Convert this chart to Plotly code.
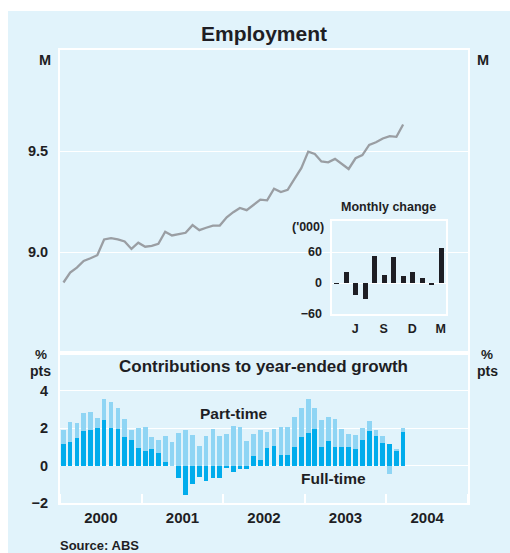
import plotly.graph_objects as go

W, H = 510, 553

# Monthly observations, January 2000 to March 2004
months = [f"{y}-{m:02d}" for y in range(2000, 2005) for m in range(1, 13)][:51]

# Employed persons, millions
employment_m = [
    8.849, 8.898, 8.923, 8.956, 8.969, 8.984, 9.062, 9.069, 9.062, 9.052,
    9.015, 9.046, 9.026, 9.030, 9.041, 9.100, 9.082, 9.087, 9.095, 9.133,
    9.108, 9.120, 9.131, 9.131, 9.172, 9.197, 9.218, 9.207, 9.233, 9.259,
    9.256, 9.313, 9.297, 9.308, 9.362, 9.415, 9.497, 9.485, 9.448, 9.444,
    9.461, 9.436, 9.411, 9.464, 9.480, 9.530, 9.543, 9.562, 9.574, 9.570,
    9.631,
]

# Contributions to year-ended employment growth, percentage points
full_time = [
    1.16, 1.26, 1.48, 1.85, 1.90, 2.01, 2.44, 2.01, 1.96, 1.53,
    1.37, 0.94, 0.78, 0.89, 0.68, 0.20, 0.00, -0.64, -1.55, -0.96,
    -0.59, -0.85, -0.69, -0.69, -0.11, -0.32, -0.16, -0.16, 0.52, 0.30,
    0.94, 1.05, 0.57, 0.57, 1.00, 1.53, 1.74, 1.96, 1.00, 1.32,
    1.00, 1.00, 1.00, 0.89, 1.37, 1.85, 1.58, 1.21, 1.16, 0.78,
    1.80,
]
part_time = [
    0.74, 1.07, 0.80, 0.96, 0.96, 0.53, 1.12, 1.39, 1.12, 0.96,
    0.53, 1.07, 1.28, 0.64, 0.69, 1.38, 1.26, 1.74, 1.90, 1.64,
    1.05, 1.58, 1.96, 1.58, 1.69, 2.12, 2.06, 1.32, 1.17, 1.60,
    0.86, 0.91, 1.49, 1.49, 1.60, 1.55, 1.82, 1.12, 1.44, 1.28,
    1.49, 0.96, 0.69, 0.75, 0.64, 0.53, 0.32, 0.37, -0.44, 0.11,
    0.21,
]

# Monthly change in employment, '000
inset_months = ["2003-04", "2003-05", "2003-06", "2003-07", "2003-08", "2003-09",
                "2003-10", "2003-11", "2003-12", "2004-01", "2004-02", "2004-03"]
monthly_change = [-1, 21, -24, -31, 52, 15, 50, 13, 22, 9, -4, 67]
inset_tick_months = ["2003-06", "2003-09", "2003-12", "2004-03"]
inset_tick_text = ["J", "S", "D", "M"]

BG = "#e1f3fb"
INK = "#1e1e24"
FONT = "Liberation Sans, Arial, sans-serif"
FT_BLUE = "#00acec"
PT_BLUE = "#8fd5f4"
LINE_GREY = "#9a9ea3"
BAR_WIDTH_MS = 20.9 * 86400000


def fx(px):
    return px / W


def fy(py):
    return 1 - py / H


fig = go.Figure()

fig.add_trace(go.Scatter(
    x=months, y=employment_m, xperiod="M1", xperiodalignment="middle",
    mode="lines", line=dict(color=LINE_GREY, width=2.3),
    xaxis="x", yaxis="y", hoverinfo="skip", showlegend=False,
))
fig.add_trace(go.Bar(
    x=months, y=full_time, xperiod="M1", xperiodalignment="middle",
    width=BAR_WIDTH_MS, marker=dict(color=FT_BLUE, line=dict(width=0)),
    xaxis="x2", yaxis="y2", showlegend=False, name="Full-time",
))
fig.add_trace(go.Bar(
    x=months, y=part_time, xperiod="M1", xperiodalignment="middle",
    width=BAR_WIDTH_MS, marker=dict(color=PT_BLUE, line=dict(width=0)),
    xaxis="x2", yaxis="y2", showlegend=False, name="Part-time",
))
fig.add_trace(go.Bar(
    x=inset_months, y=monthly_change, width=0.5,
    marker=dict(color=INK, line=dict(width=0)),
    xaxis="x3", yaxis="y3", showlegend=False, name="Monthly change",
))

frame = dict(showline=True, linecolor="white", linewidth=2, mirror=True, automargin=False)
tickfont = dict(family=FONT, size=14.5, color=INK, weight="bold")
small_font = dict(family=FONT, size=12.5, color=INK, weight="bold")
date_range = ["2000-01-01", "2005-01-01"]

fig.update_layout(
    width=W, height=H, margin=dict(l=0, r=0, t=0, b=0, pad=0, autoexpand=False),
    autosize=False,
    paper_bgcolor="white", plot_bgcolor="rgba(0,0,0,0)",
    barmode="relative", bargap=0,
    font=dict(family=FONT, color=INK, weight="bold"),
    xaxis=dict(domain=[fx(60), fx(468)], anchor="y", type="date", range=date_range,
               showticklabels=False, ticks="", showgrid=False, zeroline=False, **frame),
    yaxis=dict(domain=[fy(353), fy(50)], anchor="x", range=[8.5, 10.0],
               tickvals=[9.0, 9.5], ticktext=["9.0", "9.5"], ticks="",
               showgrid=True, gridcolor="white", gridwidth=1.3, zeroline=False,
               tickfont=tickfont, ticklabelstandoff=7, **frame),
    yaxis4=dict(overlaying="y", side="right", anchor="x", range=[8.5, 10.0],
                tickvals=[9.0, 9.5], ticktext=["9.0", "9.5"], ticks="",
                showgrid=False, zeroline=False, showline=False, automargin=False,
                tickfont=tickfont, ticklabelstandoff=7),
    xaxis2=dict(domain=[fx(60), fx(468)], anchor="y2", type="date", range=date_range,
                tick0="2000-01-01", dtick="M12", ticklabelmode="period", tickformat="%Y",
                ticks="inside", ticklen=9, tickwidth=2, tickcolor="white",
                showgrid=False, zeroline=False, tickfont=dict(tickfont, size=15),
                **frame),
    yaxis2=dict(domain=[fy(503), fy(353)], anchor="x2", range=[-2, 6],
                tickvals=[-2, 0, 2, 4], ticks="",
                showgrid=True, gridcolor="white", gridwidth=1.3, zeroline=False,
                tickfont=tickfont, ticklabelstandoff=7, **frame),
    yaxis5=dict(overlaying="y2", side="right", anchor="x2", range=[-2, 6],
                tickvals=[-2, 0, 2, 4], ticks="",
                showgrid=False, zeroline=False, showline=False, automargin=False,
                tickfont=tickfont, ticklabelstandoff=7),
    xaxis3=dict(domain=[fx(331.5), fx(445.5)], anchor="y3", type="category",
                categoryorder="array", categoryarray=inset_months,
                tickvals=inset_tick_months, ticktext=inset_tick_text, ticks="",
                showgrid=False, zeroline=False, tickfont=small_font,
                ticklabelstandoff=2, **frame),
    yaxis3=dict(domain=[fy(314), fy(221)], anchor="x3", range=[-60, 120],
                tickvals=[-60, 0, 60], ticks="",
                showgrid=True, gridcolor="white", gridwidth=1.3, zeroline=False,
                tickfont=small_font, ticklabelstandoff=5, **frame),
)

# Panel background
fig.add_shape(type="rect", xref="paper", yref="paper",
              x0=fx(8), x1=1, y0=0, y1=fy(11),
              fillcolor=BG, line=dict(width=0), layer="below")


def label(text, x, y, size, xanchor="center"):
    fig.add_annotation(text=text, xref="paper", yref="paper", x=fx(x), y=fy(y),
                       xanchor=xanchor, yanchor="middle", showarrow=False,
                       font=dict(family=FONT, size=size, color=INK, weight="bold"))


label("Employment", 264, 33, 21)
label("M", 53, 60, 14.5, xanchor="right")
label("M", 475, 60, 14.5, xanchor="left")
label("Contributions to year-ended growth", 263, 366, 17)
label("%", 41, 354, 13.5)
label("pts", 53, 371, 14, xanchor="right")
label("%", 487, 354, 13.5)
label("pts", 475, 371, 14, xanchor="left")
label("Part-time", 234, 413, 15.5)
label("Full-time", 333, 478, 15.5)
label("Monthly change", 388, 207, 12.5)
label("('000)", 326, 227, 12.5, xanchor="right")
label("Source: ABS", 58, 545, 13, xanchor="left")

fig.write_html("out.html")
